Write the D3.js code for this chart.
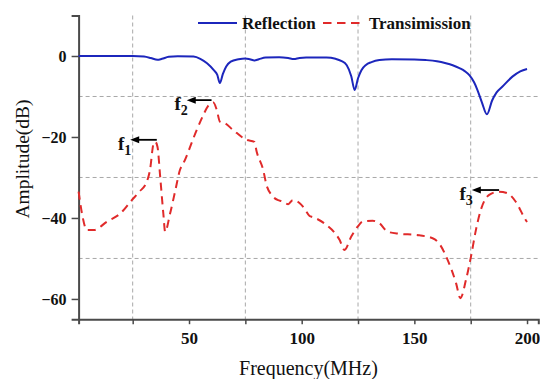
<!DOCTYPE html>
<html><head><meta charset="utf-8">
<script src="https://cdn.jsdelivr.net/npm/d3@7"></script>
<style>
html,body{margin:0;padding:0;background:#fff;}
svg{display:block;font-family:"Liberation Serif","Times New Roman",serif;}
</style></head>
<body><svg id="c" width="540" height="379"></svg>
<script>
// ---- data ----
const reflFreq = [1,25,30,33,36,38,41,45,52,55,58,61,62.5,63.7,65,66.5,68.5,72,75,77,79,81,84,90,94,96.5,99,102,111,115,117.5,120,122,123.5,125,126.5,128.5,131,134.5,140,150,155,160,164,167,170,172.5,174.5,176.5,178,180,182.2,184.5,186.5,189,193.5,197,200];
const reflDb   = [0,0,-0.15,-0.5,-0.95,-0.7,-0.2,-0.05,-0.15,-0.7,-1.8,-3.5,-4.6,-6.7,-4.5,-2.6,-1.4,-0.8,-0.6,-0.8,-1.1,-0.8,-0.4,-0.3,-0.5,-0.75,-0.5,-0.4,-0.4,-0.7,-1.2,-2.3,-5,-8.4,-5.5,-3.5,-2.2,-1.5,-1.0,-0.8,-0.85,-1,-1.3,-1.8,-2.3,-3,-3.8,-4.8,-6.5,-8.4,-11.5,-14.4,-11,-9,-7.6,-5.1,-3.8,-3.2];

const transFreq = [1,2.5,4.7,7.7,13.6,19.5,24.6,28,31.3,32.7,34.2,35,36,37.2,38.6,39.4,41.6,44,46,47.5,53.4,56,58.5,60.8,62.3,63.7,65.9,69.6,75.5,79,80,82.9,84.4,86.6,89.5,91,94,96,99,101,103.5,105,110.9,116.8,119,122,124.9,127.1,131.5,134.5,138.2,143.4,150.8,158.1,161,164.8,168.5,170.4,172.9,175.1,177.3,179.5,183.2,187.6,191.3,195,199.4,200];
const transDb   = [-33.5,-38.9,-43,-43,-40.9,-38.9,-35.6,-33.5,-31,-28.1,-21.8,-21.2,-22.4,-29.8,-38.9,-43.4,-38.9,-33,-28.1,-26.5,-18.3,-15,-12.3,-11.5,-13.3,-16.2,-16.6,-18.3,-20.7,-21.2,-23.6,-28.1,-31.9,-34.3,-35.6,-35.8,-36.6,-35.6,-36.3,-37.5,-39.5,-39.8,-41.7,-45.4,-47.9,-44.6,-42.1,-40.9,-40.7,-41.3,-43.4,-43.9,-44.2,-45,-46.3,-50.4,-56.1,-59.8,-55.3,-49.6,-43,-38,-34.3,-33.5,-33.9,-36,-40.5,-41];

const xTicks = [50,100,150,200];
const xMinor = [25,50,75,100,125,150,175,200];
const xGrid  = [25,75,125,175];
const yTicks = [0,-20,-40,-60];
const yGrid  = [-10,-30,-50];

const seriesNames = ["Reflection","Transimission"];
const seriesColors = ["#1c26bc","#e02a2a"];

// annotations: label, subscript, arrow start (data), arrow tip (data)
const annLabels = ["f","f","f"];
const annSubs   = ["1","2","3"];
const annFrom   = [35.7, 60, 187.6];
const annTo     = [23.9, 49, 175.5];
const annY      = [-20.7, -10.9, -33.1];

// ---- layout ----
const svg = d3.select("#c");
const x = d3.scaleLinear().domain([1,205]).range([78.6,538.3]);
const y = d3.scaleLinear().domain([-65,10]).range([319.2,15.5]);
const axisColor = "#4a4a4a";

// grid
const g = svg.append("g");
g.selectAll(".vg").data(xGrid).join("line")
  .attr("x1",d=>x(d)).attr("x2",d=>x(d)).attr("y1",y(10)).attr("y2",y(-65))
  .attr("stroke","#a8a8a8").attr("stroke-width",1).attr("stroke-dasharray","4,3");
g.selectAll(".hg").data(yGrid).join("line")
  .attr("x1",x(1)).attr("x2",x(205)).attr("y1",d=>y(d)).attr("y2",d=>y(d))
  .attr("stroke","#a8a8a8").attr("stroke-width",1).attr("stroke-dasharray","4,3");

// axes
const xAxis = d3.axisBottom(x).tickValues(xMinor).tickSize(5).tickPadding(8)
  .tickFormat(d=> xTicks.includes(d) ? d : "");
const xg = svg.append("g").attr("transform",`translate(0,${y(-65)})`).call(xAxis);
xg.select(".domain").attr("stroke",axisColor).attr("stroke-width",2);
xg.selectAll(".tick line").attr("stroke",axisColor).attr("stroke-width",1.5);
xg.selectAll(".tick text").attr("font-family","Liberation Serif").attr("font-weight","bold")
  .attr("font-size",17).attr("fill","#111");

const yAxis = d3.axisLeft(y).tickValues(yTicks).tickSize(7).tickPadding(5);
const yg = svg.append("g").attr("transform",`translate(${x(1)},0)`).call(yAxis);
yg.select(".domain").attr("stroke",axisColor).attr("stroke-width",2);
yg.selectAll(".tick line").attr("stroke",axisColor).attr("stroke-width",1.5);
yg.selectAll(".tick text").attr("font-family","Liberation Serif").attr("font-weight","bold")
  .attr("font-size",16).attr("fill","#111");

// titles
svg.append("text").attr("x",(x(1)+x(205))/2).attr("y",375).attr("text-anchor","middle")
  .attr("font-size",20).attr("fill","#111").text("Frequency(MHz)");
svg.append("text").attr("transform","translate(29,159) rotate(-90)").attr("text-anchor","middle")
  .attr("font-size",19.5).attr("fill","#111").text("Amplitude(dB)");

// lines
const line = d3.line().x(d=>x(d[0])).y(d=>y(d[1])).curve(d3.curveMonotoneX);
const reflData = reflFreq.map((f,i)=>[f,reflDb[i]]);
const transData = transFreq.map((f,i)=>[f,transDb[i]]);
svg.append("path").datum(transData).attr("d",line).attr("fill","none")
  .attr("stroke",seriesColors[1]).attr("stroke-width",2).attr("stroke-dasharray","8,5.5");
svg.append("path").datum(reflData).attr("d",line).attr("fill","none")
  .attr("stroke",seriesColors[0]).attr("stroke-width",2);

// legend
const lg = svg.append("g");
lg.append("line").attr("x1",198).attr("x2",237).attr("y1",23).attr("y2",23)
  .attr("stroke",seriesColors[0]).attr("stroke-width",2);
lg.append("text").attr("x",242).attr("y",29).attr("font-weight","bold").attr("font-size",17)
  .attr("fill","#111").text(seriesNames[0]);
lg.append("line").attr("x1",323).attr("x2",364).attr("y1",23).attr("y2",23)
  .attr("stroke",seriesColors[1]).attr("stroke-width",2).attr("stroke-dasharray","8.5,5.5");
lg.append("text").attr("x",369).attr("y",29).attr("font-weight","bold").attr("font-size",17)
  .attr("fill","#111").text(seriesNames[1]);

// annotations
annLabels.forEach((lab,i)=>{
  const x0 = x(annFrom[i]), x1 = x(annTo[i]), yy = y(annY[i]);
  svg.append("line").attr("x1",x0).attr("x2",x1+7).attr("y1",yy).attr("y2",yy)
    .attr("stroke","#000").attr("stroke-width",1.8);
  svg.append("path").attr("d",`M${x1},${yy} L${x1+9},${yy-3.5} L${x1+9},${yy+3.5} Z`).attr("fill","#000");
  const t = svg.append("text").attr("x",x1+1).attr("y",yy+10).attr("text-anchor","end")
    .attr("font-weight","bold").attr("font-size",19).attr("fill","#111");
  t.append("tspan").text(lab);
  t.append("tspan").attr("dy",5).attr("font-size",14).text(annSubs[i]);
});
</script></body></html>
